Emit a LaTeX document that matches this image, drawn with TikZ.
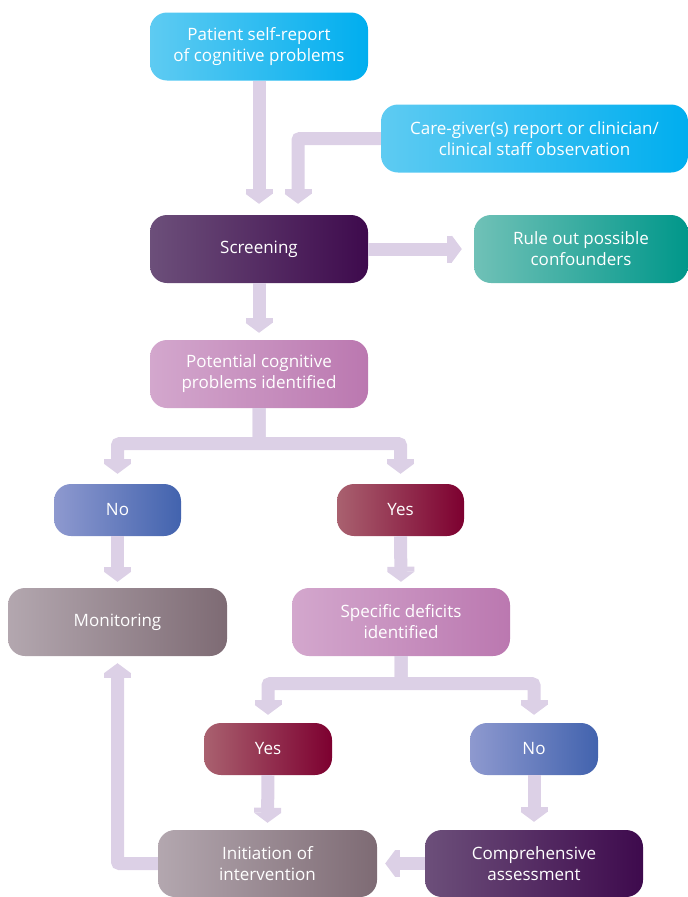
\documentclass[tikz,border=0pt]{standalone}
\usepackage{fontspec}
\setmainfont{Open Sans}
\usetikzlibrary{arrows.meta}
\definecolor{arr}{HTML}{DCD0E6}
\definecolor{cyL}{HTML}{5ECBF2}\definecolor{cyM}{HTML}{0DB7EE}\definecolor{cyR}{HTML}{00AEEF}
\definecolor{puL}{HTML}{6C4F7A}\definecolor{puM}{HTML}{481657}\definecolor{puR}{HTML}{3E0A4D}
\definecolor{teL}{HTML}{70C1B7}\definecolor{teM}{HTML}{12A595}\definecolor{teR}{HTML}{00978A}
\definecolor{piL}{HTML}{D3A7CD}\definecolor{piM}{HTML}{C283B8}\definecolor{piR}{HTML}{BB78B0}
\definecolor{blL}{HTML}{8E99CF}\definecolor{blM}{HTML}{5372B7}\definecolor{blR}{HTML}{4263AE}
\definecolor{reL}{HTML}{A9616F}\definecolor{reM}{HTML}{871A3A}\definecolor{reR}{HTML}{7D0030}
\definecolor{grL}{HTML}{B3A7AF}\definecolor{grM}{HTML}{8B7882}\definecolor{grR}{HTML}{7E6B74}
\begin{document}
\begin{tikzpicture}[x=1pt,y=-1pt,
  box/.style={rounded corners=17pt, minimum width=218pt, minimum height=68pt,
    text=white, align=center, inner sep=0pt, font=\fontsize{17}{21}\selectfont},
  smallbox/.style={box, minimum width=127pt, minimum height=52pt},
  cyanfill/.style={left color=cyL, middle color=cyM, right color=cyR},
  purplefill/.style={left color=puL, middle color=puM, right color=puR},
  tealfill/.style={left color=teL, middle color=teM, right color=teR},
  pinkfill/.style={left color=piL, middle color=piM, right color=piR},
  bluefill/.style={left color=blL, middle color=blM, right color=blR},
  redfill/.style={left color=reL, middle color=reM, right color=reR},
  greyfill/.style={left color=grL, middle color=grM, right color=grR},
  flow/.style={draw=arr, line width=13pt, rounded corners=2pt,
    -{Rectangle[width=27pt,length=5pt,sep=0pt,line width=0pt]Triangle[width=27pt,length=10pt,sep=0pt,line width=0pt]}}
]
\useasboundingbox (0,0) rectangle (688,897);

\node[box, cyanfill] (pat) at (259,46.5) {Patient self-report\\of cognitive problems};
\node[box, cyanfill, minimum width=307pt] (care) at (534.5,138.5) {Care-giver(s) report or clinician/\\clinical staff observation};
\node[box, purplefill] (scr) at (259,249) {Screening};
\node[box, tealfill, minimum width=214pt] (rule) at (581,249) {Rule out possible\\confounders};
\node[box, pinkfill] (pot) at (259,374) {Potential cognitive\\problems identified};
\node[smallbox, bluefill] (no1) at (117.5,510) {No};
\node[smallbox, redfill] (yes1) at (400.5,510) {Yes};
\node[box, greyfill, minimum width=219pt] (mon) at (117.5,622) {Monitoring};
\node[box, pinkfill] (spec) at (401,622) {Specific deficits\\identified};
\node[smallbox, redfill, minimum width=128pt] (yes2) at (268,749) {Yes};
\node[smallbox, bluefill, minimum width=128pt] (no2) at (534,749) {No};
\node[box, greyfill, minimum width=219pt, minimum height=67pt] (init) at (267.5,863.5) {Initiation of\\intervention};
\node[box, purplefill, minimum height=67pt] (comp) at (534,863.5) {Comprehensive\\assessment};

\draw[flow] (pat.south) -- ([yshift=11pt]scr.north);
\draw[flow] (care.west) -| ([xshift=39pt,yshift=11pt]scr.north);
\draw[flow] (scr.east) -- ([xshift=-12pt]rule.west);
\draw[flow] (scr.south) -- ([yshift=7pt]pot.north);
\draw[flow] (pot.south) -- ++(0,35.5) -| ([yshift=10pt]no1.north);
\draw[flow] (pot.south) -- ++(0,35.5) -| ([yshift=10pt]yes1.north);
\draw[flow] (no1.south) -- ([yshift=6pt]mon.north);
\draw[flow] (yes1.south) -- ([yshift=6pt]spec.north);
\draw[flow] (spec.south) -- ++(0,27.5) -| ([yshift=8pt]yes2.north);
\draw[flow] (spec.south) -- ++(0,27.5) -| ([yshift=8pt]no2.north);
\draw[flow] (yes2.south) -- ([yshift=7pt]init.north);
\draw[flow] (no2.south) -- ([yshift=8pt]comp.north);
\draw[flow] (comp.west) -- ([xshift=8pt]init.east);
\draw[flow] (init.west) -| ([yshift=-7pt]mon.south);
\end{tikzpicture}
\end{document}
